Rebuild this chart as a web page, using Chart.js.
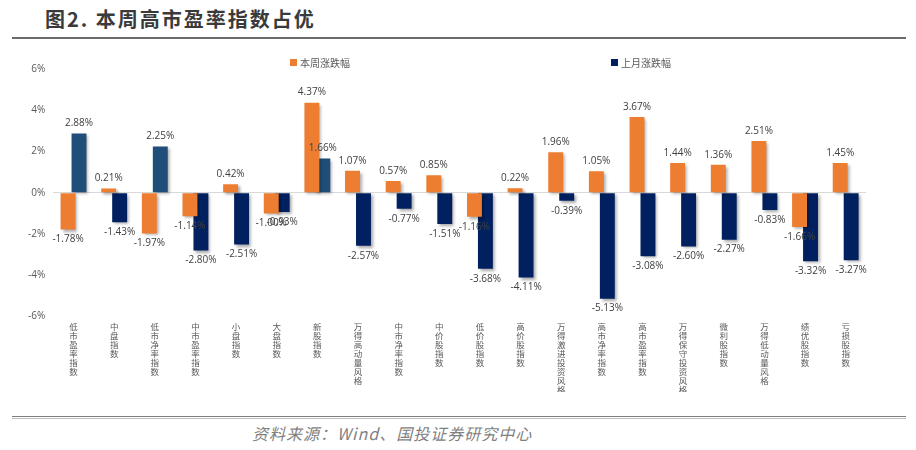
<!DOCTYPE html>
<html>
<head>
<meta charset="utf-8">
<script src="https://cdn.jsdelivr.net/npm/chart.js@4.4.1/dist/chart.umd.min.js"></script>
<style>
  html, body { margin:0; padding:0; background:#fff; }
  #page { position:relative; width:916px; height:450px; overflow:hidden; font-family:"Noto Sans CJK SC", sans-serif; }
  #title { position:absolute; left:45px; top:4px; font-size:20px; font-weight:bold; color:#3a3a3a; letter-spacing:2px; }
  #topRule { position:absolute; left:12px; right:10px; top:37px; height:0; border-top:2px solid #6b6b6b; }
  #wrap { position:absolute; left:0; top:44px; width:916px; height:348px; }
  .leg { position:absolute; top:55px; font-size:10px; color:#595959; display:flex; align-items:center; }
  .leg i { display:inline-block; width:7px; height:7px; margin-right:3px; }
  #botRule { position:absolute; left:12px; right:10px; top:416px; height:1px; border-top:1px solid #7f7f7f; border-bottom:1px solid #bfbfbf; }
  #source { position:absolute; left:252px; top:421px; font-size:16px; font-style:italic; color:#7f7f7f; letter-spacing:1px; }
</style>
</head>
<body>
<div id="page">
  <div id="title">图2. 本周高市盈率指数占优</div>
  <div id="topRule"></div>
  <div id="wrap"><canvas id="ch_main"></canvas></div>
  <div class="leg" style="left:290px"><i style="background:#ED7D31"></i>本周涨跌幅</div>
  <div class="leg" style="left:611px"><i style="background:#002060"></i>上月涨跌幅</div>
  <div id="botRule"></div>
  <div id="source">资料来源：Wind、国投证券研究中心</div>
</div>
<script>
'use strict';

/* ── data ── */
const cats = ['低市盈率指数','中盘指数','低市净率指数','中市盈率指数','小盘指数','大盘指数','新股指数','万得高动量风格',
  '中市净率指数','中价股指数','低价股指数','高价股指数','万得激进投资风格','高市净率指数','高市盈率指数',
  '万得保守投资风格','微利股指数','万得低动量风格','绩优股指数','亏损股指数'];
const weekChg  = [-1.78,0.21,-1.97,-1.14,0.42,-1.00,4.37,1.07,0.57,0.85,-1.16,0.22,1.96,1.05,3.67,1.44,1.36,2.51,-1.66,1.45];
const monthChg = [2.88,-1.43,2.25,-2.80,-2.51,-0.93,1.66,-2.57,-0.77,-1.51,-3.68,-4.11,-0.39,-5.13,-3.08,-2.60,-2.27,-0.83,-3.32,-3.27];
const yTicks = [-6,-4,-2,0,2,4,6];

const C = { orange:'#ED7D31', navy:'#002060', blue:'#1F4E79', text:'#404040', axis:'#595959' };

/* ── bar shadow + value labels ── */
const shadow = {
  id:'shadow',
  beforeDatasetsDraw(chart) {
    const ctx = chart.ctx;
    ctx.save();
    ctx.shadowColor = 'rgba(0,0,0,0.35)';
    ctx.shadowBlur = 3;
    ctx.shadowOffsetX = 2;
    ctx.shadowOffsetY = 2;
  },
  afterDatasetsDraw(chart) { chart.ctx.restore(); }
};

const valueLabels = {
  id:'valueLabels',
  afterDatasetsDraw(chart) {
    const ctx = chart.ctx;
    ctx.save();
    ctx.shadowColor = 'transparent';
    ctx.font = '10px "Open Sans", sans-serif';
    ctx.fillStyle = C.text;
    ctx.textAlign = 'center';
    chart.data.datasets.forEach((ds, i) => {
      chart.getDatasetMeta(i).data.forEach((bar, j) => {
        const v = ds.data[j];
        const txt = v.toFixed(2) + '%';
        if (v >= 0) { ctx.textBaseline = 'bottom'; ctx.fillText(txt, bar.x, bar.y - 5); }
        else { ctx.textBaseline = 'top'; ctx.fillText(txt, bar.x, bar.y + 5); }
      });
    });
    ctx.restore();
  }
};

new Chart(document.getElementById('ch_main'), {
  type:'bar',
  data:{
    labels: cats.map(s => s.split('')),
    datasets:[
      { label:'本周涨跌幅', data:weekChg, backgroundColor:C.orange },
      { label:'上月涨跌幅', data:monthChg, backgroundColor:monthChg.map(v => v >= 0 ? C.blue : C.navy) }
    ]
  },
  options:{
    responsive:true, maintainAspectRatio:false, animation:false,
    datasets:{ bar:{ categoryPercentage:0.54, barPercentage:1.36 } },
    layout:{ padding:{ left:20, right:50, top:25, bottom:0 } },
    plugins:{ legend:{ display:false }, tooltip:{ enabled:false } },
    scales:{
      y:{ min:-6, max:6,
        afterBuildTicks: ax => { ax.ticks = yTicks.map(v => ({ value:v })); },
        border:{ display:false },
        grid:{ drawTicks:false, color: c => c.tick && c.tick.value === 0 ? '#d9d9d9' : 'transparent' },
        ticks:{ color:C.axis, font:{ size:10, family:'"Open Sans", sans-serif' }, padding:8, callback: v => v + '%' } },
      x:{ border:{ display:false },
        grid:{ display:false },
        ticks:{ color:C.axis, font:{ size:8.5, family:'"Noto Sans CJK SC", sans-serif', lineHeight:1.05 }, maxRotation:0, minRotation:0, autoSkip:false, padding:-2 } }
    }
  },
  plugins:[shadow, valueLabels]
});
</script>
</body>
</html>
